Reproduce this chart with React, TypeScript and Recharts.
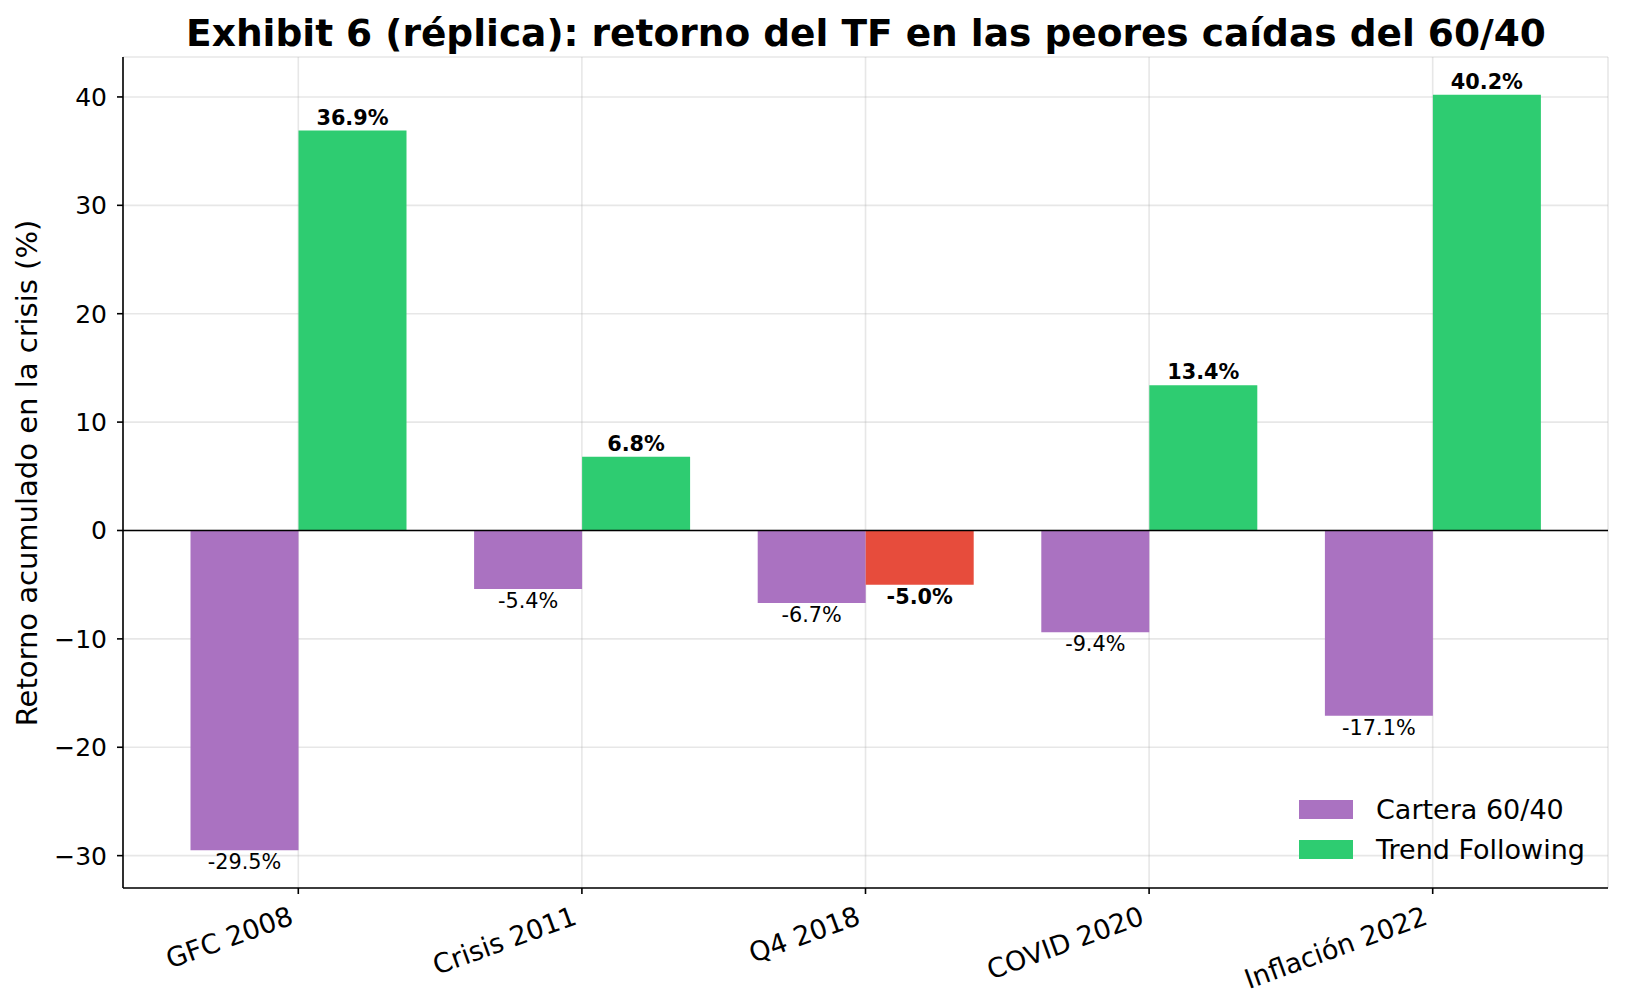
import React from "react";
import {
  BarChart,
  Bar,
  XAxis,
  YAxis,
  CartesianGrid,
  ReferenceLine,
  Legend,
  LabelList,
  Cell,
} from "recharts";

const categories = ["GFC 2008", "Crisis 2011", "Q4 2018", "COVID 2020", "Inflación 2022"];
const cartera6040 = [-29.5, -5.4, -6.7, -9.4, -17.1];
const trendFollowing = [36.9, 6.8, -5.0, 13.4, 40.2];
const yTicks = [-30, -20, -10, 0, 10, 20, 30, 40];

const data = categories.map((name, i) => ({
  name,
  cartera: cartera6040[i],
  tf: trendFollowing[i],
}));

const FONT = '"DejaVu Sans", Verdana, sans-serif';
const PURPLE = "#aa72c1";
const GREEN = "#2ecc71";
const RED = "#e74c3c";

const pct = (v: number) => `${Number(v).toFixed(1)}%`;

function CategoryTick({ x, y, payload }: any) {
  return (
    <g transform={`translate(${x - 3.5},${y + 29.5}) rotate(-20)`}>
      <text textAnchor="end" fontSize={27} fontFamily={FONT} fill="#000">
        {payload.value}
      </text>
    </g>
  );
}

function CarteraLabel({ x, y, width, height, value }: any) {
  const bottom = Math.max(y, y + height);
  return (
    <text x={x + width / 2} y={bottom + 19} textAnchor="middle" fontSize={20.8} fontFamily={FONT} fill="#000">
      {pct(value)}
    </text>
  );
}

function TfLabel({ x, y, width, height, value }: any) {
  const top = Math.min(y, y + height);
  const bottom = Math.max(y, y + height);
  const ty = value >= 0 ? top - 6 : bottom + 19;
  return (
    <text
      x={x + width / 2}
      y={ty}
      textAnchor="middle"
      fontSize={20.8}
      fontWeight="bold"
      fontFamily={FONT}
      fill="#000"
    >
      {pct(value)}
    </text>
  );
}

function LegendBox({ payload }: any) {
  return (
    <div style={{ fontFamily: FONT, fontSize: 27, color: "#000" }}>
      {(payload || []).map((entry: any) => (
        <div key={entry.value} style={{ display: "flex", alignItems: "center", height: 40 }}>
          <span style={{ display: "inline-block", width: 54, height: 19, background: entry.color, marginRight: 23 }} />
          <span style={{ lineHeight: 1 }}>{entry.value}</span>
        </div>
      ))}
    </div>
  );
}

export default function App() {
  const axisStroke = { stroke: "#000", strokeWidth: 1.6 };
  return (
    <div style={{ position: "relative", width: 1626, height: 1008, background: "#fff" }}>
      <style>{`body{margin:0}`}</style>
      <BarChart
        width={1626}
        height={1008}
        data={data}
        margin={{ top: 57, right: 18, bottom: 60, left: 63 }}
        barGap={0}
      >
        <CartesianGrid stroke="#b0b0b0" strokeOpacity={0.3} strokeWidth={1.6} />
        <XAxis
          dataKey="name"
          padding={{ left: 33.5, right: 33.5 }}
          height={60}
          tickSize={6}
          tickMargin={0}
          interval={0}
          tick={<CategoryTick />}
          axisLine={axisStroke}
          tickLine={axisStroke}
        />
        <YAxis
          type="number"
          domain={[-32.985, 43.685]}
          ticks={yTicks}
          allowDataOverflow
          width={60}
          tickSize={6}
          tickMargin={10}
          tickFormatter={(v) => String(v).replace("-", "\u2212")}
          tick={{ fontSize: 25, fill: "#000", fontFamily: FONT }}
          axisLine={axisStroke}
          tickLine={axisStroke}
        />
        <Bar dataKey="cartera" name="Cartera 60/40" fill={PURPLE} barSize={108} isAnimationActive={false}>
          <LabelList dataKey="cartera" content={CarteraLabel} />
        </Bar>
        <Bar dataKey="tf" name="Trend Following" fill={GREEN} barSize={108} isAnimationActive={false}>
          {data.map((d, i) => (
            <Cell key={i} fill={d.tf >= 0 ? GREEN : RED} />
          ))}
          <LabelList dataKey="tf" content={TfLabel} />
        </Bar>
        <ReferenceLine y={0} stroke="#000" strokeWidth={1.6} />
        <Legend
          layout="vertical"
          align="center"
          verticalAlign="middle"
          content={<LegendBox />}
          wrapperStyle={{ left: 1299, top: 789, width: 320 }}
        />
      </BarChart>
      <svg
        width={1626}
        height={1008}
        style={{ position: "absolute", left: 0, top: 0, pointerEvents: "none" }}
      >
        <text x={866} y={46} textAnchor="middle" fontSize={37.5} fontWeight="bold" fontFamily={FONT} fill="#000">
          Exhibit 6 (réplica): retorno del TF en las peores caídas del 60/40
        </text>
        <text
          transform="translate(37,473) rotate(-90)"
          textAnchor="middle"
          fontSize={29}
          fontFamily={FONT}
          fill="#000"
        >
          Retorno acumulado en la crisis (%)
        </text>
      </svg>
    </div>
  );
}
